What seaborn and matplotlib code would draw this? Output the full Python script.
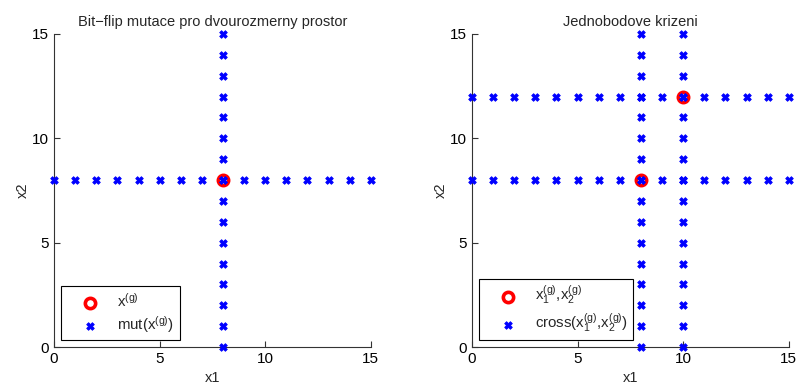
import matplotlib
matplotlib.use("Agg")
import matplotlib.pyplot as plt
import seaborn as sns
import numpy as np
import pandas as pd

sns.set_theme(style="white")
plt.rcParams["font.family"] = ["Liberation Sans", "DejaVu Sans"]
plt.rcParams["mathtext.default"] = "regular"

# data
grid = list(range(16))
mut_parent = [(8, 8)]
cross_parents = [(8, 8), (10, 12)]

left_pts = pd.DataFrame(
    [(8, v) for v in grid] + [(v, 8) for v in grid], columns=["x1", "x2"])
right_pts = pd.DataFrame(
    [(8, v) for v in grid] + [(10, v) for v in grid]
    + [(v, 8) for v in grid] + [(v, 12) for v in grid], columns=["x1", "x2"])
left_par = pd.DataFrame(mut_parent, columns=["x1", "x2"])
right_par = pd.DataFrame(cross_parents, columns=["x1", "x2"])

fig = plt.figure(figsize=(7.98, 3.85), dpi=100)
ax1 = fig.add_axes([0.0677, 0.0987, 0.397, 0.813])
ax2 = fig.add_axes([0.5915, 0.0987, 0.397, 0.813])


def draw(ax, par, pts, lab_par, lab_pts, title):
    sns.scatterplot(data=par, x="x1", y="x2", ax=ax, marker="o", s=55,
                    facecolor="white", edgecolor="red", linewidth=2.6,
                    label=lab_par, clip_on=False, zorder=3)
    sns.scatterplot(data=pts, x="x1", y="x2", ax=ax, marker="X", s=30,
                    color="blue", edgecolor="blue", linewidth=0.6,
                    label=lab_pts, clip_on=False, zorder=4)
    ax.set_xlim(0, 15)
    ax.set_ylim(0, 15)
    ax.set_xticks([0, 5, 10, 15])
    ax.set_yticks([0, 5, 10, 15])
    ax.set_title(title, fontsize=10.5, pad=6)
    ax.set_xlabel("x1", fontsize=10.5, labelpad=4)
    ax.set_ylabel("x2", fontsize=10.5, labelpad=2)
    for s in ["top", "right"]:
        ax.spines[s].set_visible(False)
    for s in ["left", "bottom"]:
        ax.spines[s].set_color("#333333")
        ax.spines[s].set_linewidth(0.8)
    ax.tick_params(direction="in", length=4, width=0.8, labelsize=11,
                   colors="#333333", labelcolor="black", left=True, bottom=True)
    leg = ax.legend(loc="lower left", bbox_to_anchor=(0.022, 0.022),
                    fancybox=False, framealpha=1, edgecolor="black",
                    fontsize=10.8, borderpad=0.35, handlelength=3.2,
                    handletextpad=0.2, labelspacing=0.3, borderaxespad=0)
    leg.get_frame().set_linewidth(0.8)


draw(ax1, left_par, left_pts, r"$x^{(g)}$", r"mut($x^{(g)}$)",
     "Bit\u2212flip mutace pro dvourozmerny prostor")
draw(ax2, right_par, right_pts, r"$x_1^{(g)}$,$x_2^{(g)}$",
     r"cross($x_1^{(g)}$,$x_2^{(g)}$)", "Jednobodove krizeni")

fig.savefig("out.png", dpi=100)
